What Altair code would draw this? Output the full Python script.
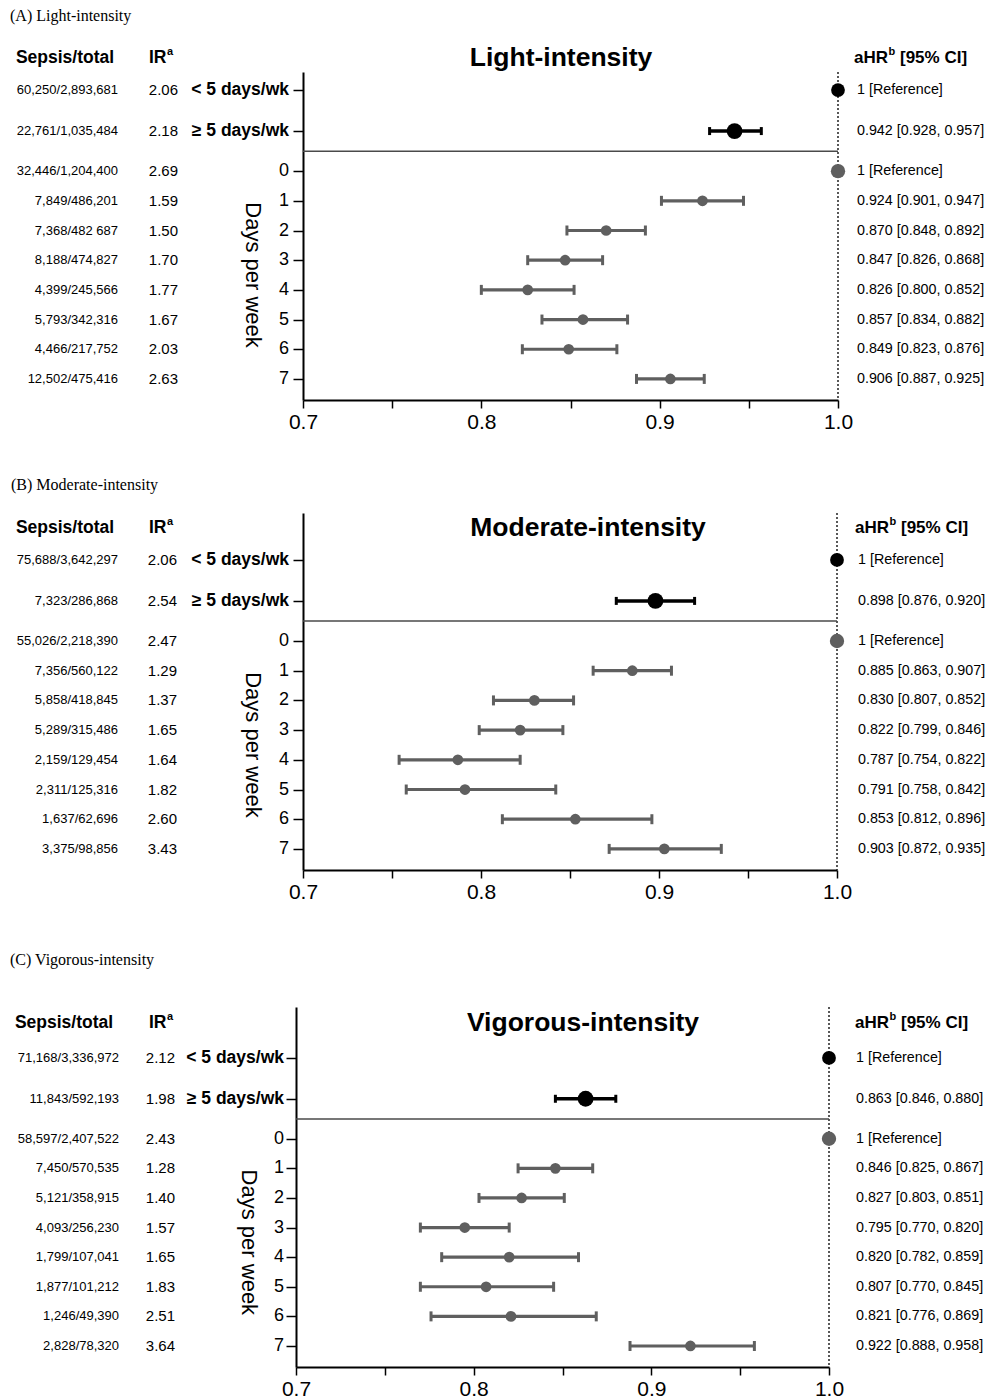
import altair as alt
import pandas as pd

SANS = "Liberation Sans"
SERIF = "Liberation Serif"
GRAY = "#5f5f5f"

# ---------------- data ----------------
group_labels = ["< 5 days/wk", "≥ 5 days/wk"]
day_labels = ["0", "1", "2", "3", "4", "5", "6", "7"]

# (A) Light-intensity
a_top_sepsis = ["60,250/2,893,681", "22,761/1,035,484"]
a_top_ir = ["2.06", "2.18"]
a_top_hr = [1.0, 0.942]
a_top_lo = [None, 0.928]
a_top_hi = [None, 0.957]
a_day_sepsis = ["32,446/1,204,400", "7,849/486,201", "7,368/482 687", "8,188/474,827",
                "4,399/245,566", "5,793/342,316", "4,466/217,752", "12,502/475,416"]
a_day_ir = ["2.69", "1.59", "1.50", "1.70", "1.77", "1.67", "2.03", "2.63"]
a_day_hr = [1.0, 0.924, 0.870, 0.847, 0.826, 0.857, 0.849, 0.906]
a_day_lo = [None, 0.901, 0.848, 0.826, 0.800, 0.834, 0.823, 0.887]
a_day_hi = [None, 0.947, 0.892, 0.868, 0.852, 0.882, 0.876, 0.925]

# (B) Moderate-intensity
b_top_sepsis = ["75,688/3,642,297", "7,323/286,868"]
b_top_ir = ["2.06", "2.54"]
b_top_hr = [1.0, 0.898]
b_top_lo = [None, 0.876]
b_top_hi = [None, 0.920]
b_day_sepsis = ["55,026/2,218,390", "7,356/560,122", "5,858/418,845", "5,289/315,486",
                "2,159/129,454", "2,311/125,316", "1,637/62,696", "3,375/98,856"]
b_day_ir = ["2.47", "1.29", "1.37", "1.65", "1.64", "1.82", "2.60", "3.43"]
b_day_hr = [1.0, 0.885, 0.830, 0.822, 0.787, 0.791, 0.853, 0.903]
b_day_lo = [None, 0.863, 0.807, 0.799, 0.754, 0.758, 0.812, 0.872]
b_day_hi = [None, 0.907, 0.852, 0.846, 0.822, 0.842, 0.896, 0.935]

# (C) Vigorous-intensity
c_top_sepsis = ["71,168/3,336,972", "11,843/592,193"]
c_top_ir = ["2.12", "1.98"]
c_top_hr = [1.0, 0.863]
c_top_lo = [None, 0.846]
c_top_hi = [None, 0.880]
c_day_sepsis = ["58,597/2,407,522", "7,450/570,535", "5,121/358,915", "4,093/256,230",
                "1,799/107,041", "1,877/101,212", "1,246/49,390", "2,828/78,320"]
c_day_ir = ["2.43", "1.28", "1.40", "1.57", "1.65", "1.83", "2.51", "3.64"]
c_day_hr = [1.0, 0.846, 0.827, 0.795, 0.820, 0.807, 0.821, 0.922]
c_day_lo = [None, 0.825, 0.803, 0.770, 0.782, 0.770, 0.776, 0.888]
c_day_hi = [None, 0.867, 0.851, 0.820, 0.859, 0.845, 0.869, 0.958]

# ------------- layout constants (row units) -------------
TOP_POS = [0.0, 1.38]
DAY0 = 2.73
SEP_POS = 2.06
BOTTOM = 10.44


def ci_text(hr, lo, hi):
    if lo is None:
        return "1 [Reference]"
    return f"{hr:.3f} [{lo:.3f}, {hi:.3f}]"


def make_df(ts, ti, th, tl, tu, ds, di, dh, dl, du):
    rows = []
    for i in range(2):
        rows.append(dict(label=group_labels[i], grp="top", kind="top_ref" if tl[i] is None else "top",
                         pos=TOP_POS[i], sepsis=ts[i], ir=ti[i], hr=th[i], lo=tl[i], hi=tu[i],
                         ci=ci_text(th[i], tl[i], tu[i])))
    for i in range(8):
        rows.append(dict(label=day_labels[i], grp="day", kind="day_ref" if dl[i] is None else "day",
                         pos=DAY0 + i, sepsis=ds[i], ir=di[i], hr=dh[i], lo=dl[i], hi=du[i],
                         ci=ci_text(dh[i], dl[i], du[i])))
    return pd.DataFrame(rows)


dummy = pd.DataFrame({"d": [0]})
POINT_STYLE = {"top_ref": ("black", 190), "top": ("black", 250),
               "day_ref": (GRAY, 205), "day": (GRAY, 115)}
CAP_STYLE = {"top": ("black", 64, 3.5), "day": (GRAY, 100, 3.2)}


def panel(df, panel_title, plot_title, g):
    xs = dict(domain=[0.7, 1.0], nice=False, zero=False)
    if "xr" in g:
        xs["range"] = g["xr"]
    xscale = alt.Scale(**xs)
    yscale = alt.Scale(domain=[g["ytop"], BOTTOM], reverse=True, nice=False, zero=False)
    xaxis = alt.Axis(values=[0.7, 0.75, 0.8, 0.85, 0.9, 0.95, 1.0],
                     labelExpr="round(datum.value*100) % 10 == 0 ? format(datum.value, '.1f') : ''",
                     title=None, grid=False, domainColor="black", domainWidth=2,
                     tickColor="black", tickWidth=1.5, tickSize=8, labelFontSize=21,
                     labelFont=SANS, labelColor="black", labelPadding=3,
                     labelFlush=False, labelOverlap=False)
    yvals = TOP_POS + [DAY0 + i for i in range(8)]
    yaxis = alt.Axis(values=yvals, labels=False, title=None, grid=False,
                     domainColor="black", domainWidth=2, tickColor="black",
                     tickWidth=1.5, tickSize=10, offset=g.get("yoff", 0))

    def X(field=None, datum=None):
        if datum is not None:
            return alt.X(datum=datum, type="quantitative", scale=xscale, axis=xaxis)
        return alt.X(field, type="quantitative", scale=xscale, axis=xaxis)

    def Y(field=None, datum=None):
        if datum is not None:
            return alt.Y(datum=datum, type="quantitative", scale=yscale, axis=yaxis)
        return alt.Y(field, type="quantitative", scale=yscale, axis=yaxis)

    base = alt.Chart(df)

    layers = []
    # dotted reference line at 1.0
    layers.append(alt.Chart(dummy).mark_rule(strokeDash=[2, 2], strokeWidth=1.5, color="#222")
                  .encode(x=X(datum=1.0)))
    # separator line
    layers.append(alt.Chart(dummy).mark_rule(strokeWidth=1.5, color="#4a4a4a")
                  .encode(x=X(datum=0.7), x2=alt.X2(datum=1.0), y=Y(datum=SEP_POS)))
    # CI bars and caps
    for grp, (c, capsize, sw) in CAP_STYLE.items():
        rows = base.transform_filter(f"isValid(datum.lo) && datum.grp == '{grp}'")
        layers.append(rows.mark_rule(strokeWidth=sw, color=c)
                      .encode(x=X("lo"), x2="hi", y=Y("pos")))
        for f in ["lo", "hi"]:
            layers.append(rows.mark_point(shape="M0,-1L0,1", filled=False, strokeWidth=3,
                                          opacity=1, color=c, size=capsize)
                          .encode(x=X(f), y=Y("pos")))
    # points
    for kind, (c, sz) in POINT_STYLE.items():
        layers.append(base.transform_filter(f"datum.kind == '{kind}'")
                      .mark_circle(opacity=1, color=c, size=sz)
                      .encode(x=X("hr"), y=Y("pos")))
    # y labels
    layers.append(base.transform_filter("datum.grp == 'top'")
                  .mark_text(align="right", baseline="middle", font=SANS, fontSize=17.5,
                             fontWeight="bold", color="black")
                  .encode(x=alt.value(g["ylab"]), y=Y("pos"), text="label"))
    layers.append(base.transform_filter("datum.grp == 'day'")
                  .mark_text(align="right", baseline="middle", font=SANS, fontSize=18, color="black")
                  .encode(x=alt.value(g["ylab"]), y=Y("pos"), text="label"))
    # sepsis / IR / CI columns
    layers.append(base.mark_text(align="right", baseline="middle", font=SANS, fontSize=13, color="black")
                  .encode(x=alt.value(g["sx"]), y=Y("pos"), text="sepsis"))
    layers.append(base.mark_text(align="right", baseline="middle", font=SANS, fontSize=15, color="black")
                  .encode(x=alt.value(g["irx"]), y=Y("pos"), text="ir"))
    layers.append(base.mark_text(align="left", baseline="middle", font=SANS, fontSize=14.3, color="black")
                  .encode(x=alt.value(g["cix"]), y=Y("pos"), text="ci"))

    # headers
    def txt(text, x, y, **kw):
        opts = dict(baseline="middle", font=SANS, color="black")
        opts.update(kw)
        return alt.Chart(dummy).mark_text(text=text, **opts).encode(x=alt.value(x), y=y)

    hy = Y(datum=g["hdr"])
    layers.append(txt("Sepsis/total", g["shx"], hy, align="center", fontSize=17.5, fontWeight="bold"))
    layers.append(txt("IR", g["irhx"], hy, align="left", fontSize=17.5, fontWeight="bold"))
    layers.append(txt("a", g["irhx"] + 18, hy, align="left", fontSize=11, fontWeight="bold", dy=-6))
    layers.append(txt("aHR", g["cihx"], hy, align="left", fontSize=17, fontWeight="bold"))
    layers.append(txt("b", g["cihx"] + 34.5, hy, align="left", fontSize=11, fontWeight="bold", dy=-6))
    layers.append(txt("[95% CI]", g["cihx"] + 46, hy, align="left", fontSize=17, fontWeight="bold"))
    layers.append(txt(plot_title, g["ptx"], hy, align="center", fontSize=26.5, fontWeight="bold"))
    # Days per week
    layers.append(txt("Days per week", g["dpw"], Y(datum=DAY0 + 3.5), align="center", fontSize=22, angle=90))
    # panel title
    layers.append(txt(panel_title, g["tx"], alt.value(g["ty"]), align="left", font=SERIF, fontSize=16))

    return alt.layer(*layers).properties(width=g["w"], height=g["h"])


# all panels share the same group origin (abs x = 302); C's plot area starts 7px further left
geoA = dict(w=535, h=328, ytop=-0.61, hdr=-1.08, ty=-56, tx=-293, ptx=258,
            sx=-185, irx=-125, shx=-238, irhx=-154, ylab=-14, dpw=-50, cix=554, cihx=551)
geoB = dict(w=534, h=357, ytop=-1.58, hdr=-1.08, ty=-28, tx=-292, ptx=285,
            sx=-185, irx=-126, shx=-238, irhx=-154, ylab=-14, dpw=-50, cix=555, cihx=552)
geoC = dict(w=526, h=360, ytop=-1.72, hdr=-1.18, ty=-47, tx=-293, ptx=280,
            xr=[-7, 526], yoff=7,
            sx=-184, irx=-128, shx=-239, irhx=-154, ylab=-19, dpw=-54, cix=553, cihx=552)

dfA = make_df(a_top_sepsis, a_top_ir, a_top_hr, a_top_lo, a_top_hi,
              a_day_sepsis, a_day_ir, a_day_hr, a_day_lo, a_day_hi)
dfB = make_df(b_top_sepsis, b_top_ir, b_top_hr, b_top_lo, b_top_hi,
              b_day_sepsis, b_day_ir, b_day_hr, b_day_lo, b_day_hi)
dfC = make_df(c_top_sepsis, c_top_ir, c_top_hr, c_top_lo, c_top_hi,
              c_day_sepsis, c_day_ir, c_day_hr, c_day_lo, c_day_hi)

pA = panel(dfA, "(A) Light-intensity", "Light-intensity", geoA)
pB = panel(dfB, "(B) Moderate-intensity", "Moderate-intensity", geoB)
pC = panel(dfC, "(C) Vigorous-intensity", "Vigorous-intensity", geoC)

chart = alt.vconcat(pA, alt.vconcat(pB, pC, spacing=50), spacing=45).properties(
    padding={"left": 2, "top": 0, "right": 0, "bottom": 0},
    background="white",
).configure_view(stroke=None)

chart.save("out.html", embed_options={"renderer": "svg", "actions": False})
